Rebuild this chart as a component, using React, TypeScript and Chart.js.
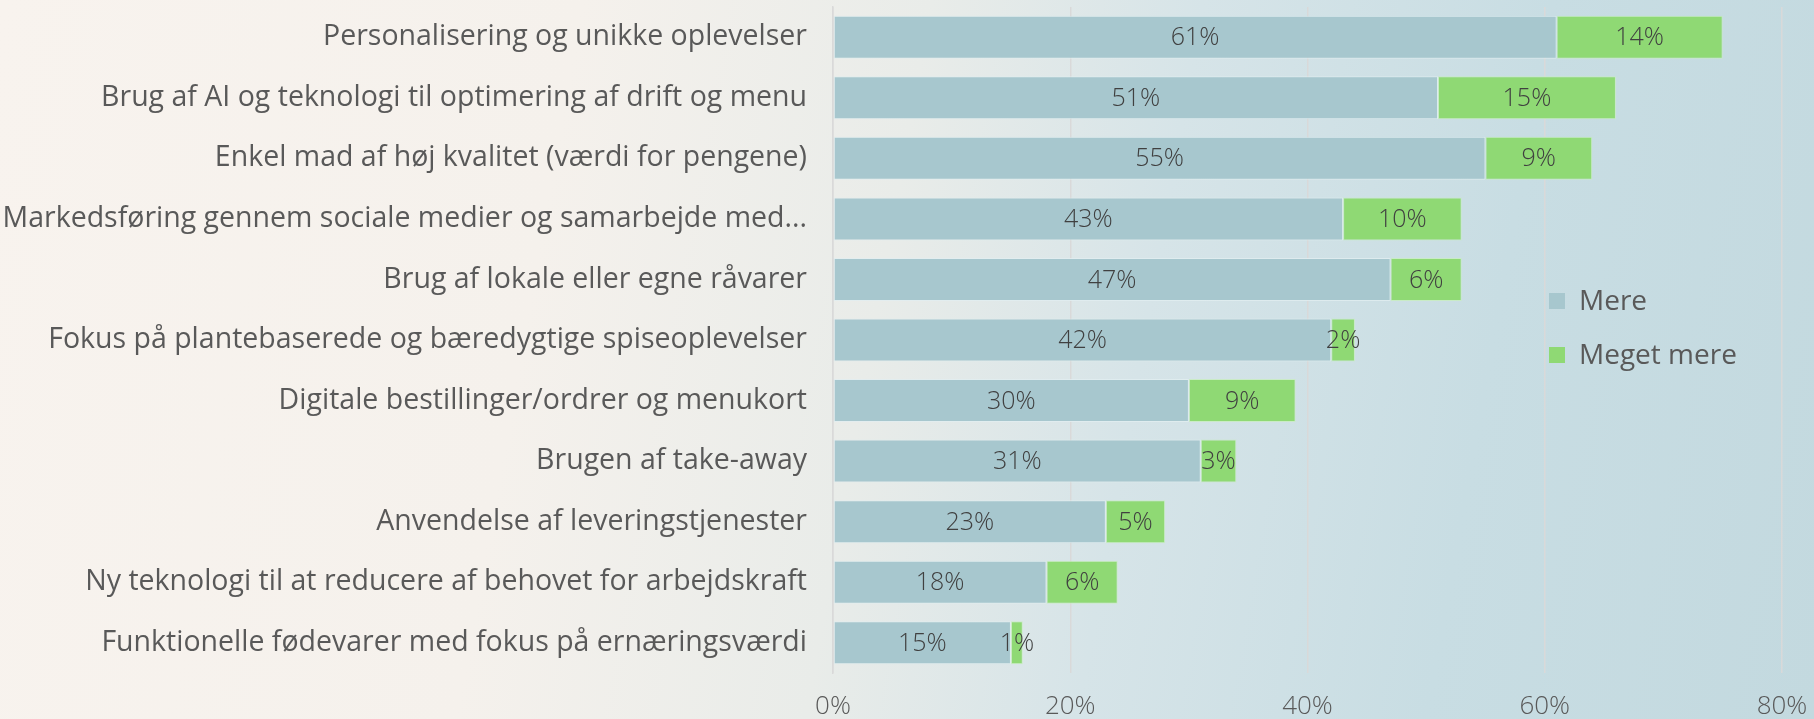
import React, { useEffect, useRef } from "react";
import { Chart, registerables } from "chart.js";

Chart.register(...registerables);

const categories: string[] = [
  "Personalisering og unikke oplevelser",
  "Brug af AI og teknologi til optimering af drift og menu",
  "Enkel mad af høj kvalitet (værdi for pengene)",
  "Markedsføring gennem sociale medier og samarbejde med...",
  "Brug af lokale eller egne råvarer",
  "Fokus på plantebaserede og bæredygtige spiseoplevelser",
  "Digitale bestillinger/ordrer og menukort",
  "Brugen af take-away",
  "Anvendelse af leveringstjenester",
  "Ny teknologi til at reducere af behovet for arbejdskraft",
  "Funktionelle fødevarer med fokus på ernæringsværdi",
];

const mereValues: number[] = [61, 51, 55, 43, 47, 42, 30, 31, 23, 18, 15];
const megetMereValues: number[] = [14, 15, 9, 10, 6, 2, 9, 3, 5, 6, 1];

const seriesNames: string[] = ["Mere", "Meget mere"];
const seriesColors: string[] = ["#a7c7ce", "#8fd974"];

const xTicks: number[] = [0, 20, 40, 60, 80];

const FONT = "'Open Sans', 'Noto Sans', sans-serif";
const TEXT_COLOR = "#595959";
const LABEL_COLOR = "#404040";

const dataLabelPlugin = {
  id: "segmentLabels",
  afterDatasetsDraw(chart: any) {
    const ctx = chart.ctx;
    ctx.save();
    ctx.font = `300 25px ${FONT}`;
    ctx.fillStyle = LABEL_COLOR;
    ctx.textAlign = "center";
    ctx.textBaseline = "middle";
    chart.data.datasets.forEach((ds: any, di: number) => {
      const meta = chart.getDatasetMeta(di);
      meta.data.forEach((el: any, i: number) => {
        const v = ds.data[i];
        const cx = (el.x + el.base) / 2;
        ctx.fillText(`${v}%`, cx, el.y + 1);
      });
    });
    ctx.restore();
  },
};

const legendPlugin = {
  id: "insideLegend",
  afterDraw(chart: any) {
    const ctx = chart.ctx;
    const area = chart.chartArea;
    const x0 = area.right - 233;
    const y0 = area.top + 294;
    ctx.save();
    ctx.font = `400 28px ${FONT}`;
    ctx.textAlign = "left";
    ctx.textBaseline = "middle";
    seriesNames.forEach((name, i) => {
      const y = y0 + i * 54;
      ctx.fillStyle = seriesColors[i];
      ctx.fillRect(x0, y - 8, 16, 16);
      ctx.fillStyle = TEXT_COLOR;
      ctx.fillText(name, x0 + 30, y + 1);
    });
    ctx.restore();
  },
};

export default function App() {
  const canvasRef = useRef<HTMLCanvasElement | null>(null);

  useEffect(() => {
    if (!canvasRef.current) return;
    const chart = new Chart(canvasRef.current, {
      type: "bar",
      data: {
        labels: categories,
        datasets: [
          {
            label: seriesNames[0],
            data: mereValues,
            backgroundColor: seriesColors[0],
            borderColor: "rgba(225,238,240,0.8)",
            borderWidth: 1,
            borderSkipped: false,
            categoryPercentage: 1,
            barPercentage: 0.71,
          },
          {
            label: seriesNames[1],
            data: megetMereValues,
            backgroundColor: seriesColors[1],
            borderColor: "rgba(200,238,190,0.8)",
            borderWidth: 1,
            borderSkipped: false,
            categoryPercentage: 1,
            barPercentage: 0.71,
          },
        ],
      },
      options: {
        indexAxis: "y",
        animation: false,
        responsive: false,
        maintainAspectRatio: false,
        layout: { padding: { top: 7, right: 32, left: 0, bottom: 0 } },
        plugins: {
          legend: { display: false },
          tooltip: { enabled: false },
        },
        scales: {
          x: {
            stacked: true,
            min: xTicks[0],
            max: xTicks[xTicks.length - 1],
            afterBuildTicks: (scale: any) => {
              scale.ticks = xTicks.map((v) => ({ value: v }));
            },
            afterFit: (scale: any) => {
              scale.height = 46;
              scale.paddingLeft = 0;
              scale.paddingRight = 0;
            },
            ticks: {
              callback: (v: any) => `${v}%`,
              color: TEXT_COLOR,
              font: { family: FONT, size: 26, weight: "300" },
              padding: 18,
              maxRotation: 0,
            },
            grid: { color: "#d9d9d9", lineWidth: 1.5, drawTicks: false },
            border: { display: false },
          },
          y: {
            stacked: true,
            afterFit: (scale: any) => {
              scale.width = 833;
              scale.paddingTop = 0;
              scale.paddingBottom = 0;
            },
            ticks: {
              color: TEXT_COLOR,
              font: { family: FONT, size: 28.5, weight: "400" },
              padding: 26,
              autoSkip: false,
            },
            grid: { display: false, drawTicks: false },
            border: { display: true, color: "#d9d9d9", width: 1.5 },
          },
        },
      },
      plugins: [dataLabelPlugin, legendPlugin],
    } as any);
    return () => chart.destroy();
  }, []);

  return (
    <div
      style={{
        position: "fixed",
        left: 0,
        top: 0,
        width: 1814,
        height: 719,
        background:
          "linear-gradient(100deg, #f8f3ee 0%, #f5f1ec 30%, #e9ece9 48%, #d6e4e8 62%, #c8dde3 80%, #c3d9df 100%)",
        overflow: "hidden",
      }}
    >
      <canvas ref={canvasRef} width={1814} height={719} style={{ display: "block" }} />
    </div>
  );
}
